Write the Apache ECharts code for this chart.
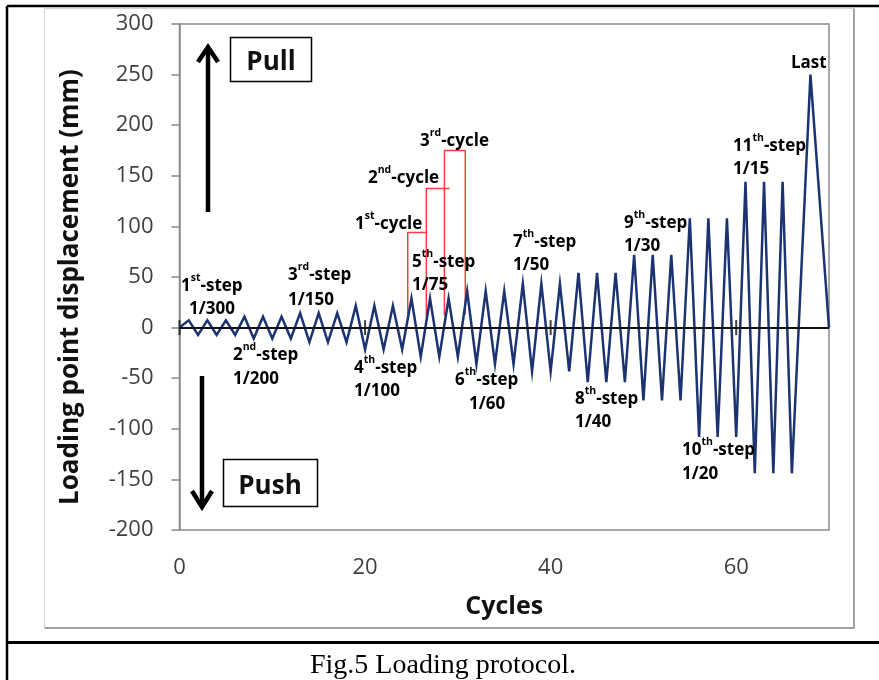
<!DOCTYPE html>
<html>
<head>
<meta charset="utf-8">
<script src="https://cdn.jsdelivr.net/npm/echarts@6/dist/echarts.min.js"></script>
<style>
  html, body { margin: 0; padding: 0; background: #fff; }
  #chart { width: 879px; height: 680px; }
</style>
</head>
<body>
<div id="chart"></div>
<script>
// Cycle index (x) of every turning point of the loading history
const cycles = [
  0,
  1, 2, 3, 4, 5, 6,
  7, 8, 9, 10, 11, 12,
  13, 14, 15, 16, 17, 18,
  19, 20, 21, 22, 23, 24,
  25, 26, 27, 28, 29, 30,
  31, 32, 33, 34, 35, 36,
  37, 38, 39, 40, 41, 42,
  43, 44, 45, 46, 47, 48,
  49, 50, 51, 52, 53, 54,
  55, 56, 57, 58, 59, 60,
  61, 62, 63, 64, 65, 66,
  68, 70
];

// Loading point displacement at each turning point (mm)
const displacement = [
  0,
  7.2, -7.2, 7.2, -7.2, 7.2, -7.2,
  10.8, -10.8, 10.8, -10.8, 10.8, -10.8,
  14.4, -14.4, 14.4, -14.4, 14.4, -14.4,
  21.6, -21.6, 21.6, -21.6, 21.6, -21.6,
  28.8, -28.8, 28.8, -28.8, 28.8, -28.8,
  36, -36, 36, -36, 36, -36,
  43.2, -43.2, 43.2, -43.2, 43.2, -43.2,
  54, -54, 54, -54, 54, -54,
  72, -72, 72, -72, 72, -72,
  108, -108, 108, -108, 108, -108,
  144, -144, 144, -144, 144, -144,
  250, 0
];

// Axis ticks
const xTicks = [0, 20, 40, 60];
const yTicks = [-200, -150, -100, -50, 0, 50, 100, 150, 200, 250, 300];

// Red brackets marking the three cycles of the 5th step
const cycleBracket1 = [[24.6, 13], [24.6, 94], [26.7, 94]];
const cycleBracket2 = [[26.6, 11], [26.6, 137.5], [29.1, 137.5]];
const cycleBracket3 = [[28.55, 12], [28.55, 175], [30.8, 175], [30.8, 13]];

// Step labels: [ordinal number, suffix, drift ratio]
const stepNames = [
  ['1', 'st', '1/300'], ['2', 'nd', '1/200'], ['3', 'rd', '1/150'],
  ['4', 'th', '1/100'], ['5', 'th', '1/75'], ['6', 'th', '1/60'],
  ['7', 'th', '1/50'], ['8', 'th', '1/40'], ['9', 'th', '1/30'],
  ['10', 'th', '1/20'], ['11', 'th', '1/15']
];
const cycleNames = [['1', 'st'], ['2', 'nd'], ['3', 'rd']];

const ink = '#1a1a1a';
const labelFont = "'Open Sans', 'Noto Sans', sans-serif";

const rich = {
  n: { fontFamily: labelFont, fontWeight: 'bold', fontSize: 17, color: ink, lineHeight: 22, verticalAlign: 'bottom' },
  s: { fontFamily: labelFont, fontWeight: 'bold', fontSize: 10.5, color: ink, lineHeight: 22, verticalAlign: 'top' }
};

function label(x, y, text) {
  return {
    type: 'text', x: x, y: y, z: 10,
    style: { text: text, rich: rich, align: 'left', verticalAlign: 'middle' }
  };
}

// left edge / vertical centre of each step label (title line, ratio line)
const stepLabelPos = [
  [181, 284, 189, 307], [233, 353, 233, 377], [288, 273, 288, 298],
  [354, 366, 354, 389], [412, 260, 412, 283], [455, 378, 469, 402],
  [513, 240, 513, 263], [575, 397, 575, 420], [624, 221, 624, 244],
  [682, 448, 682, 472], [733, 144, 733, 167]
];
const cycleLabelPos = [[355, 222], [368, 176], [420, 139]];

const graphics = [];
// page frame: black ruling lines and the grey chart border
graphics.push({ type: 'line', shape: { x1: 7, y1: 6, x2: 879, y2: 6 }, style: { stroke: '#000', lineWidth: 2.5 } });
graphics.push({ type: 'line', shape: { x1: 7, y1: 6, x2: 7, y2: 680 }, style: { stroke: '#000', lineWidth: 2.5 } });
graphics.push({ type: 'line', shape: { x1: 7, y1: 642.5, x2: 879, y2: 642.5 }, style: { stroke: '#000', lineWidth: 3 } });
graphics.push({ type: 'rect', shape: { x: 44.5, y: 8.5, width: 809, height: 619 }, style: { fill: 'none', stroke: '#d4d4d4', lineWidth: 1 } });
graphics.push({ type: 'polyline', shape: { points: [[44.5, 628], [854, 628], [854, 8.5]] }, style: { fill: 'none', stroke: '#8c8c8c', lineWidth: 1.5 } });

// Pull / Push boxes and arrows
graphics.push({ type: 'rect', shape: { x: 230.5, y: 37.5, width: 81, height: 44 }, style: { fill: '#fff', stroke: '#000', lineWidth: 1.5 } });
graphics.push({ type: 'text', x: 271, y: 63, style: { text: 'Pull', fontFamily: labelFont, fontWeight: 'bold', fontSize: 26, fill: '#111', align: 'center', verticalAlign: 'middle' } });
graphics.push({ type: 'rect', shape: { x: 223.5, y: 459.5, width: 94, height: 47 }, style: { fill: '#fff', stroke: '#000', lineWidth: 1.5 } });
graphics.push({ type: 'text', x: 270, y: 487, style: { text: 'Push', fontFamily: labelFont, fontWeight: 'bold', fontSize: 26, fill: '#111', align: 'center', verticalAlign: 'middle' } });
graphics.push({ type: 'line', shape: { x1: 208, y1: 212, x2: 208, y2: 48 }, style: { stroke: '#000', lineWidth: 4.5 } });
graphics.push({ type: 'polyline', shape: { points: [[198, 62], [208, 47], [218, 62]] }, style: { fill: 'none', stroke: '#000', lineWidth: 4.5, lineJoin: 'miter' } });
graphics.push({ type: 'line', shape: { x1: 202, y1: 376, x2: 202, y2: 507 }, style: { stroke: '#000', lineWidth: 4.5 } });
graphics.push({ type: 'polyline', shape: { points: [[192, 491], [202, 507], [212, 491]] }, style: { fill: 'none', stroke: '#000', lineWidth: 4.5, lineJoin: 'miter' } });

stepNames.forEach(function (s, i) {
  const p = stepLabelPos[i];
  graphics.push(label(p[0], p[1], '{n|' + s[0] + '}{s|' + s[1] + '}{n|-step}'));
  graphics.push(label(p[2], p[3], '{n|' + s[2] + '}'));
});
cycleNames.forEach(function (c, i) {
  const p = cycleLabelPos[i];
  graphics.push(label(p[0], p[1], '{n|' + c[0] + '}{s|' + c[1] + '}{n|-cycle}'));
});
graphics.push(label(791, 61, '{n|Last}'));

// caption under the figure
graphics.push({ type: 'text', x: 443, y: 666, style: { text: 'Fig.5 Loading protocol.', fontFamily: "'Liberation Serif', 'Times New Roman', serif", fontSize: 28, fill: '#000', align: 'center', verticalAlign: 'middle' } });

const chart = echarts.init(document.getElementById('chart'), null, { renderer: 'canvas' });

const bracketStyle = { color: '#ff3c3c', width: 1.5 };
function bracketSeries(points) {
  return {
    type: 'line', data: points, symbol: 'none', silent: true, z: 3,
    lineStyle: bracketStyle, animation: false
  };
}

chart.setOption({
  animation: false,
  backgroundColor: '#fff',
  grid: {
    left: 179.5, right: 50, top: 24, bottom: 150,
    show: true, borderColor: '#8a8a8a', borderWidth: 1.5,
    outerBoundsMode: 'none'
  },
  xAxis: {
    type: 'value', min: 0, max: 70, interval: 20,
    name: 'Cycles', nameLocation: 'middle', nameGap: 64,
    nameTextStyle: { fontFamily: labelFont, fontWeight: 'bold', fontSize: 25, color: '#111' },
    axisLine: { show: false, onZero: false },
    axisTick: { show: false },
    splitLine: { show: false },
    axisLabel: {
      fontFamily: labelFont, fontSize: 22, color: '#404040', margin: 27,
      customValues: xTicks
    }
  },
  yAxis: {
    type: 'value', min: -200, max: 300, interval: 50,
    name: 'Loading point displacement (mm)', nameLocation: 'middle', nameGap: 96, nameRotate: 90,
    nameTextStyle: { fontFamily: labelFont, fontWeight: 'bold', fontSize: 26, color: '#111', padding: [0, 20, 0, 0] },
    axisLine: { show: true, onZero: false, lineStyle: { color: '#8a8a8a', width: 1.5 } },
    axisTick: { show: true, inside: false, length: 8, lineStyle: { color: '#8a8a8a', width: 1.5 }, customValues: yTicks },
    splitLine: { show: false },
    axisLabel: { fontFamily: labelFont, fontSize: 22, color: '#404040', margin: 26, customValues: yTicks }
  },
  graphic: graphics,
  series: [
    {
      // zero line with its crossing tick marks
      type: 'scatter', data: xTicks.map(function (t) { return [t, 0]; }),
      symbol: 'rect', symbolSize: [2, 15], itemStyle: { color: '#111' }, silent: true, z: 1,
      markLine: {
        silent: true, symbol: 'none', label: { show: false },
        lineStyle: { color: '#111', width: 2, type: 'solid' },
        data: [{ yAxis: 0 }], animation: false
      }
    },
    {
      type: 'line',
      data: cycles.map(function (c, i) { return [c, displacement[i]]; }),
      symbol: 'none', z: 4,
      lineStyle: { color: '#1b3370', width: 2.5, join: 'miter' }
    },
    bracketSeries(cycleBracket1),
    bracketSeries(cycleBracket2),
    bracketSeries(cycleBracket3)
  ]
});
</script>
</body>
</html>
